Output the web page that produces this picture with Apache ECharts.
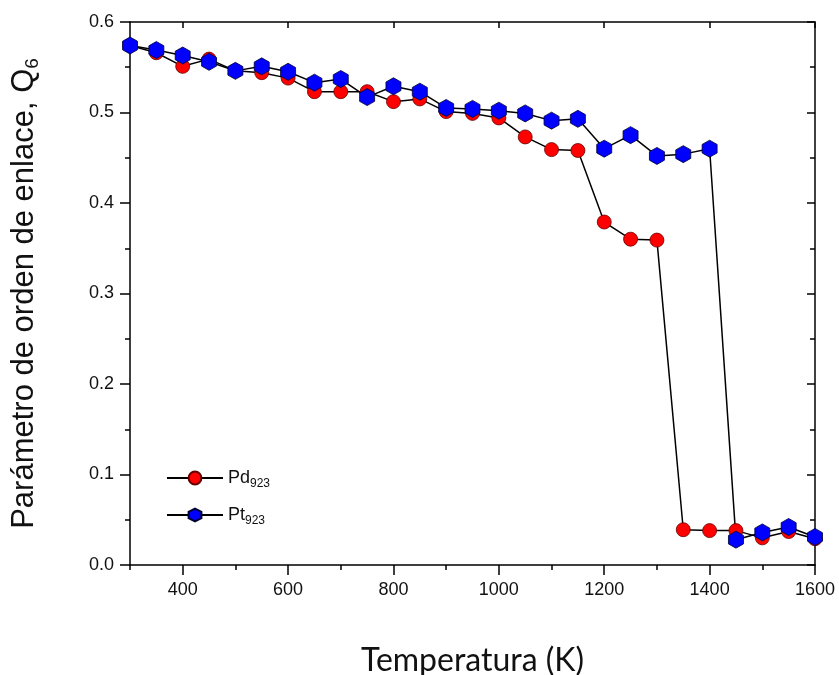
<!DOCTYPE html>
<html>
<head>
<meta charset="utf-8">
<script src="https://cdn.jsdelivr.net/npm/echarts@6/dist/echarts.min.js"></script>
<style>
  html, body { margin: 0; padding: 0; background: #fff; }
  #main { width: 839px; height: 675px; }
</style>
</head>
<body>
<div id="main"></div>
<script>
// datos
var temperatura = [300, 350, 400, 450, 500, 550, 600, 650, 700, 750, 800, 850, 900, 950,
  1000, 1050, 1100, 1150, 1200, 1250, 1300, 1350, 1400, 1450, 1500, 1550, 1600];
var pd923 = [0.574, 0.566, 0.551, 0.559, 0.546, 0.544, 0.538, 0.523, 0.523, 0.523, 0.512, 0.515, 0.501, 0.499,
  0.494, 0.473, 0.459, 0.458, 0.379, 0.360, 0.359, 0.039, 0.038, 0.038, 0.030, 0.037, 0.029];
var pt923 = [0.574, 0.569, 0.563, 0.556, 0.546, 0.551, 0.545, 0.533, 0.537, 0.517, 0.529, 0.523, 0.505, 0.504,
  0.502, 0.499, 0.491, 0.493, 0.460, 0.475, 0.452, 0.454, 0.460, 0.028, 0.036, 0.042, 0.031];
var xTicksMayores = [400, 600, 800, 1000, 1200, 1400, 1600];
var xTicksMenores = [300, 500, 700, 900, 1100, 1300, 1500];

var hexagono = 'path://M0,-1 L0.866,-0.5 L0.866,0.5 L0,1 L-0.866,0.5 L-0.866,-0.5 Z';
var fuente = 'Liberation Sans';

function pares(ys) {
  return temperatura.map(function (t, i) { return [t, ys[i]]; });
}

var myChart = echarts.init(document.getElementById('main'));

var option = {
  backgroundColor: '#fff',
  animation: false,
  grid: { left: 130, right: 24, top: 22, bottom: 110, containLabel: false, outerBoundsMode: 'none' },
  legend: {
    left: 161,
    top: 464,
    orient: 'vertical',
    itemWidth: 56,
    itemHeight: 16,
    itemGap: 16,
    data: ['Pd923', 'Pt923'],
    formatter: function (n) { return n.slice(0, 2) + '{s|' + n.slice(2) + '}'; },
    textStyle: {
      fontFamily: fuente, fontSize: 18, color: '#111',
      rich: { s: { fontFamily: fuente, fontSize: 12, padding: [12, 0, 0, 0], color: '#111' } }
    }
  },
  xAxis: [{
    type: 'value', min: 300, max: 1600, position: 'bottom',
    name: 'Temperatura (K)', nameLocation: 'middle', nameGap: 80,
    nameTextStyle: { fontFamily: 'Lato', fontSize: 32, color: '#111' },
    splitLine: { show: false },
    axisLine: { show: true, onZero: false, lineStyle: { color: '#000', width: 1.5 } },
    axisTick: { show: true, customValues: xTicksMayores, length: 10, lineStyle: { color: '#000', width: 1.5 } },
    axisLabel: { customValues: xTicksMayores, fontFamily: fuente, fontSize: 18, color: '#111', margin: 16,
      formatter: function (v) { return String(v); } }
  }, {
    type: 'value', min: 300, max: 1600, position: 'bottom',
    splitLine: { show: false },
    axisLine: { show: false },
    axisTick: { show: true, customValues: xTicksMenores, length: 5, lineStyle: { color: '#000', width: 1.5 } },
    axisLabel: { show: false }
  }, {
    type: 'value', min: 300, max: 1600, position: 'top',
    splitLine: { show: false },
    axisLine: { show: true, onZero: false, lineStyle: { color: '#000', width: 1.5 } },
    axisTick: { show: true, inside: true, customValues: xTicksMayores, length: 6, lineStyle: { color: '#000', width: 1.5 } },
    axisLabel: { show: false }
  }],
  yAxis: [{
    type: 'value', min: 0, max: 0.6, interval: 0.1, position: 'left',
    name: 'Parámetro de orden de enlace, Q{s|6}', nameLocation: 'middle', nameGap: 88,
    nameTextStyle: {
      fontFamily: fuente, fontSize: 31, color: '#111',
      rich: { s: { fontFamily: fuente, fontSize: 19, padding: [16, 0, 0, 0], color: '#111' } }
    },
    splitLine: { show: false },
    axisLine: { show: true, onZero: false, lineStyle: { color: '#000', width: 1.5 } },
    axisTick: { show: true, length: 10, lineStyle: { color: '#000', width: 1.5 } },
    minorTick: { show: true, splitNumber: 2, length: 5, lineStyle: { color: '#000', width: 1.5 } },
    axisLabel: { fontFamily: fuente, fontSize: 18, color: '#111', margin: 16,
      formatter: function (v) { return v.toFixed(1); } }
  }, {
    type: 'value', min: 0, max: 0.6, interval: 0.1, position: 'right',
    splitLine: { show: false },
    axisLine: { show: true, onZero: false, lineStyle: { color: '#000', width: 1.5 } },
    axisTick: { show: true, inside: true, length: 8, lineStyle: { color: '#000', width: 1.5 } },
    minorTick: { show: true, splitNumber: 2, length: 5, lineStyle: { color: '#000', width: 1.5 } },
    axisLabel: { show: false }
  }],
  series: [{
    name: 'Pd923',
    type: 'line',
    data: pares(pd923),
    symbol: 'circle',
    symbolSize: 14,
    lineStyle: { color: '#000', width: 1.5 },
    itemStyle: { color: '#ff0000', borderColor: '#600', borderWidth: 0.8 }
  }, {
    name: 'Pt923',
    type: 'line',
    data: pares(pt923),
    symbol: hexagono,
    symbolSize: [15, 17],
    lineStyle: { color: '#000', width: 1.5 },
    itemStyle: { color: '#0000ff', borderColor: '#003', borderWidth: 0.8 }
  }]
};

myChart.setOption(option);
</script>
</body>
</html>
